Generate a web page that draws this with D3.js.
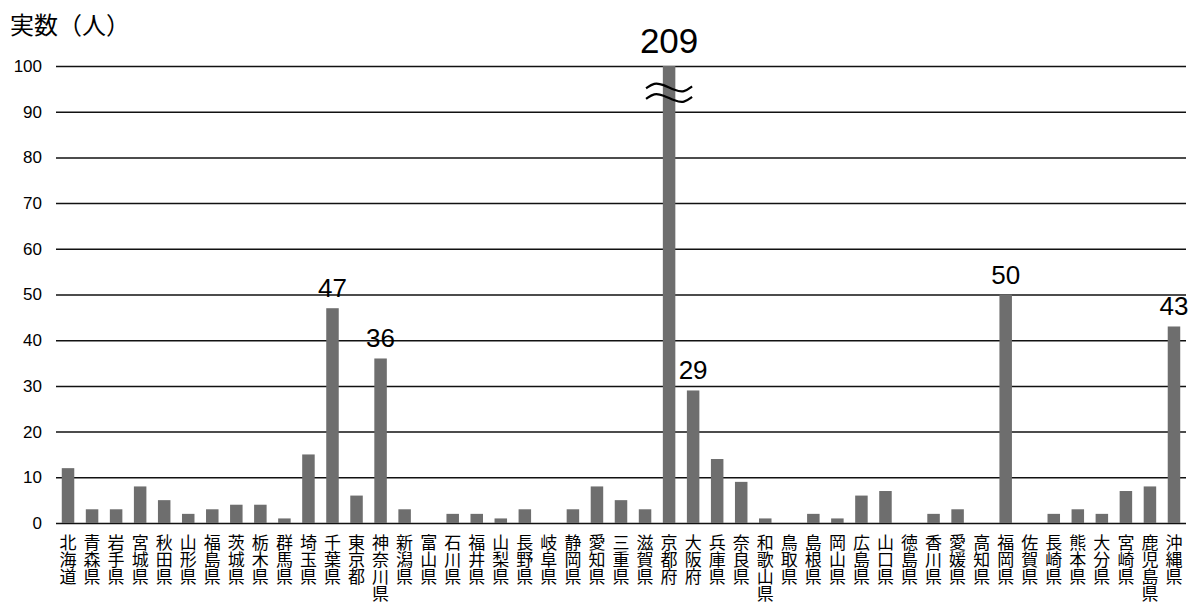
<!DOCTYPE html>
<html>
<head>
<meta charset="utf-8">
<script src="https://cdn.jsdelivr.net/npm/d3@7"></script>
<style>
  html, body { margin: 0; padding: 0; background: #fff; }
  svg { display: block; }
</style>
</head>
<body>
<svg id="chart" width="1195" height="616"></svg>
<script>
// Prefectures in standard order
const prefectures = [
  "北海道","青森県","岩手県","宮城県","秋田県","山形県","福島県","茨城県","栃木県","群馬県",
  "埼玉県","千葉県","東京都","神奈川県","新潟県","富山県","石川県","福井県","山梨県","長野県",
  "岐阜県","静岡県","愛知県","三重県","滋賀県","京都府","大阪府","兵庫県","奈良県","和歌山県",
  "鳥取県","島根県","岡山県","広島県","山口県","徳島県","香川県","愛媛県","高知県","福岡県",
  "佐賀県","長崎県","熊本県","大分県","宮崎県","鹿児島県","沖縄県"
];

// Count of people per prefecture
const counts = [
  12, 3, 3, 8, 5, 2, 3, 4, 4, 1,
  15, 47, 6, 36, 3, 0, 2, 2, 1, 3,
  0, 3, 8, 5, 3, 209, 29, 14, 9, 1,
  0, 2, 1, 6, 7, 0, 2, 3, 0, 50,
  0, 2, 3, 2, 7, 8, 43
];

// Prefectures whose value is printed above the bar
const labelled = ["千葉県","神奈川県","京都府","大阪府","福岡県","沖縄県"];

const yTicks = [0,10,20,30,40,50,60,70,80,90,100];
const yMax = 100;
const titleText = "実数（人）";

const svg = d3.select("#chart");
const margin = { left: 56, right: 9, top: 66, bottom: 93 };
const W = 1195, H = 616;

const x = d3.scaleBand()
  .domain(prefectures)
  .range([margin.left, W - margin.right])
  .paddingInner(0.48)
  .paddingOuter(0.24);

const y = d3.scaleLinear()
  .domain([0, yMax])
  .range([H - margin.bottom, margin.top]);

const font = "'Noto Sans CJK JP', 'Noto Sans', sans-serif";
const numFont = "'Liberation Sans', Arial, sans-serif";

// Horizontal gridlines with tick labels
const yAxis = d3.axisLeft(y)
  .tickValues(yTicks)
  .tickSize(-(W - margin.right - margin.left))
  .tickPadding(14);

const gY = svg.append("g")
  .attr("transform", `translate(${margin.left},0)`)
  .call(yAxis);
gY.select(".domain").remove();
gY.selectAll(".tick line").attr("stroke", "#111").attr("stroke-width", 1.5);
gY.selectAll(".tick text")
  .attr("font-family", numFont)
  .attr("font-size", 17)
  .attr("fill", "#000");

// Bars (values above the axis maximum are clipped at the top)
const data = prefectures.map((p, i) => ({ name: p, value: counts[i] }));

svg.append("g").selectAll("rect")
  .data(data)
  .join("rect")
  .attr("x", d => x(d.name))
  .attr("width", x.bandwidth())
  .attr("y", d => y(Math.min(d.value, yMax)))
  .attr("height", d => y(0) - y(Math.min(d.value, yMax)))
  .attr("fill", "#6e6e6e");

// Value labels
svg.append("g").selectAll("text")
  .data(data.filter(d => labelled.includes(d.name)))
  .join("text")
  .attr("x", d => x(d.name) + x.bandwidth() / 2)
  .attr("y", d => y(Math.min(d.value, yMax)) - (d.value > yMax ? 13 : 11))
  .attr("text-anchor", "middle")
  .attr("font-family", numFont)
  .attr("font-size", d => d.value > yMax ? 35 : 26)
  .attr("fill", "#000")
  .text(d => d.value);

// Break marks on the clipped bar
const waveLine = d3.line().curve(d3.curveBasis);
data.filter(d => d.value > yMax).forEach(d => {
  const cx = x(d.name) + x.bandwidth() / 2;
  [95.3, 93.0].forEach(v => {
    const cy = y(v);
    const pts = [
      [cx - 23, cy + 1], [cx - 15, cy - 5], [cx - 6, cy - 3],
      [cx + 6, cy + 3], [cx + 15, cy + 5], [cx + 23, cy - 1]
    ];
    svg.append("path")
      .attr("d", waveLine(pts))
      .attr("fill", "none")
      .attr("stroke", "#000")
      .attr("stroke-width", 2.2);
  });
});

// Category labels, written vertically
svg.append("g").selectAll("text")
  .data(prefectures)
  .join("text")
  .attr("x", d => x(d) + x.bandwidth() / 2)
  .attr("y", H - margin.bottom + 11)
  .style("writing-mode", "vertical-rl")
  .style("text-orientation", "upright")
  .attr("font-family", font)
  .attr("font-size", 17)
  .attr("fill", "#000")
  .text(d => d);

// Axis title
svg.append("text")
  .attr("x", 10)
  .attr("y", 34)
  .attr("font-family", font)
  .attr("font-size", 24)
  .attr("fill", "#000")
  .text(titleText);
</script>
</body>
</html>
